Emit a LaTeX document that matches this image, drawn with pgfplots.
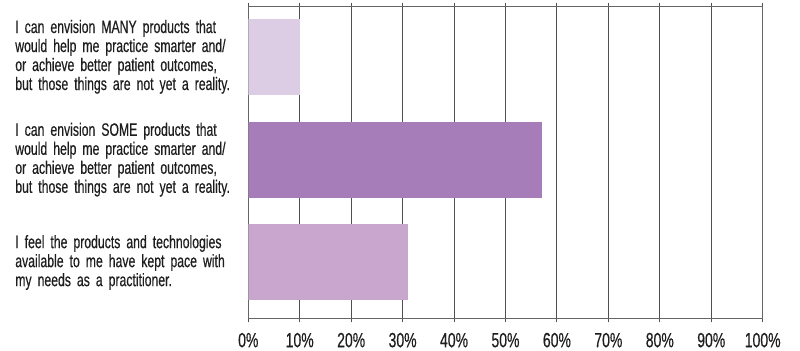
\documentclass[border=0pt]{standalone}
\usepackage{fontspec}
\setmainfont{Liberation Sans}[FakeStretch=0.68, FakeBold=0.4]
\usepackage{pgfplots}
\pgfplotsset{compat=1.18}
\definecolor{barA}{RGB}{220,205,228}
\definecolor{barB}{RGB}{166,125,184}
\definecolor{barC}{RGB}{201,166,205}
\definecolor{gridc}{RGB}{80,80,80}
\definecolor{txt}{RGB}{30,30,30}
\begin{document}
\begin{tikzpicture}
\useasboundingbox (0,0) rectangle (400bp,175.5bp);
\begin{axis}[
  at={(124.15bp,16.5bp)}, anchor=south west,
  scale only axis,
  width=257.2bp, height=155.5bp,
  xmin=0, xmax=100,
  ymin=-0.54, ymax=2.485,
  xbar, bar width=38bp, bar shift=0pt,
  xtick={0,10,...,100},
  xticklabel={\pgfmathprintnumber{\tick}\%},
  /pgf/number format/assume math mode=true,
  xmajorgrids,
  major grid style={gridc, line width=0.5bp},
  axis line style={gray!80!black, line width=0.5bp},
  tick align=outside,
  major tick length=2.2bp,
  xtick style={gridc, line width=0.5bp},
  ytick={0,1,2},
  ytick style={draw=none},
  yticklabels={
    {I feel the products and technologies\\available to me have kept pace with\\my needs as a practitioner.},
    {I can envision SOME products that\\would help me practice smarter and/\\or achieve better patient outcomes,\\but those things are not yet a reality.},
    {I can envision MANY products that\\would help me practice smarter and/\\or achieve better patient outcomes,\\but those things are not yet a reality.}
  },
  yticklabel style={anchor=west, xshift=-114.5bp, inner sep=0pt, text width=112bp, align=left,
    font=\fontsize{9bp}{9.5bp}\selectfont, text=txt},
  xticklabel style={font=\fontsize{10.3bp}{11bp}\selectfont, text=txt, yshift=-1.7bp},
]
\addplot[fill=barC, draw=none] coordinates {(31,0)};
\addplot[fill=barB, draw=none] coordinates {(57,1)};
\addplot[fill=barA, draw=none] coordinates {(10,2)};
\end{axis}
\end{tikzpicture}
\end{document}
